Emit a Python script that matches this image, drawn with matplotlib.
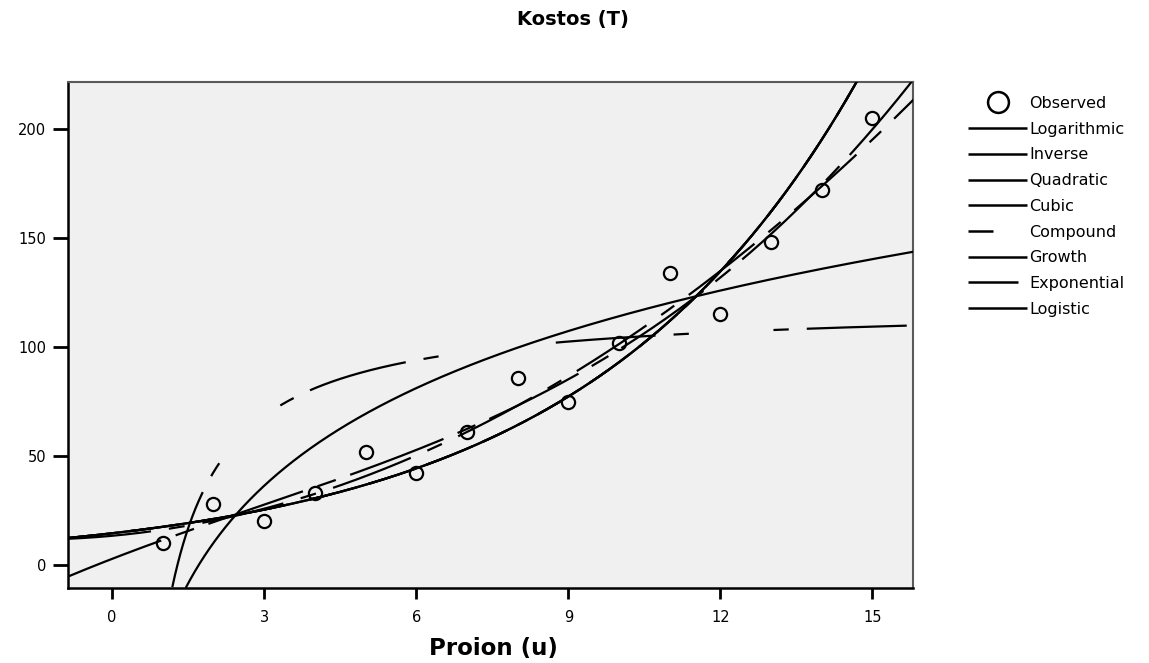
import numpy as np
import matplotlib
matplotlib.use('Agg')
import matplotlib.pyplot as plt
from matplotlib.lines import Line2D

plt.rcParams['font.family'] = ['DejaVu Sans']
plt.rcParams['lines.scale_dashes'] = False

# observed values
proion = np.array([1, 2, 3, 4, 5, 6, 7, 8, 9, 10, 11, 12, 13, 14, 15], dtype=float)
kostos = np.array([10, 28, 20, 33, 52, 42, 61, 86, 75, 102, 134, 115, 148, 172, 205], dtype=float)

modelNames = ['Logarithmic', 'Inverse', 'Quadratic', 'Cubic',
              'Compound', 'Growth', 'Exponential', 'Logistic']
xTicks = [0, 3, 6, 9, 12, 15]
yTicks = [0, 50, 100, 150, 200]

xMin, xMax = -0.87, 15.8
yMin, yMax = -10.5, 221.5

# dash patterns in points, None = solid
dashStyles = {
  'Logarithmic': None,
  'Inverse': (72, 13, 11, 61, 11, 13, 72, 13, 11, 85),
  'Quadratic': (60, 13, 11.5, 13),
  'Cubic': (72, 11, 14, 11),
  'Compound': (18, 26),
  'Growth': None,
  'Exponential': (36, 8),
  'Logistic': (160, 8),
}


def fitModel(name, x, y):
  # curve estimation models, least squares on the linearised form
  if name == 'Logarithmic':
    b1, b0 = np.polyfit(np.log(x), y, 1)
    return lambda t: b0 + b1 * np.log(t)
  if name == 'Inverse':
    b1, b0 = np.polyfit(1.0 / x, y, 1)
    return lambda t: b0 + b1 / t
  if name == 'Quadratic':
    c = np.polyfit(x, y, 2)
    return lambda t: np.polyval(c, t)
  if name == 'Cubic':
    c = np.polyfit(x, y, 3)
    return lambda t: np.polyval(c, t)
  # compound, growth, exponential and logistic (no upper bound) share ln(y) ~ x
  b1, b0 = np.polyfit(x, np.log(y), 1)
  return lambda t: np.exp(b0 + b1 * t)


fig = plt.figure(figsize=(11.49, 6.63), dpi=100)
ax = fig.add_axes([68 / 1149, 1 - 588 / 663, (913 - 68) / 1149, (588 - 82) / 663])
ax.set_facecolor('#f0f0f0')

ax.plot(proion, kostos, 'o', mfc='none', mec='black', ms=9.5, mew=1.6, zorder=3)

handles = [Line2D([], [], marker='o', ls='none', mfc='none', mec='black', ms=15, mew=1.8)]
for name in modelNames:
  f = fitModel(name, proion, kostos)
  if name in ('Logarithmic', 'Inverse'):
    xs = np.linspace(0.02, xMax + 0.05, 4000)
  else:
    xs = np.linspace(xMin, xMax + 0.05, 1000)
  ys = f(xs)
  keep = (ys >= yMin) & (ys < yMax + 3)
  xs, ys = xs[keep], ys[keep]
  line, = ax.plot(xs, ys, color='black', lw=1.6, solid_capstyle='butt', dash_capstyle='butt', zorder=4)
  h = Line2D([], [], color='black', lw=1.8, solid_capstyle='butt', dash_capstyle='butt')
  if dashStyles[name] is not None:
    line.set_dashes(dashStyles[name])
    h.set_dashes(dashStyles[name])
  handles.append(h)

ax.set_xlim(xMin, xMax)
ax.set_ylim(yMin, yMax)
ax.set_xticks(xTicks)
ax.set_yticks(yTicks)
ax.tick_params(axis='both', direction='out', width=2, labelsize=10.5)
ax.tick_params(axis='y', length=10.5, pad=5)
ax.tick_params(axis='x', length=8, pad=8)

for side in ['left', 'bottom']:
  ax.spines[side].set_color('black')
  ax.spines[side].set_linewidth(1.8)
for side in ['top', 'right']:
  ax.spines[side].set_color('#5a5a5a')
  ax.spines[side].set_linewidth(1.5)

fig.text(0.4987, 1 - 20 / 663, 'Kostos (T)', ha='center', va='center', weight='bold', size=14)
fig.text(493 / 1149, 1 - 648 / 663, 'Proion (u)', ha='center', va='center', weight='bold', size=16.5)

fig.legend(handles, ['Observed'] + modelNames, loc='upper left',
           bbox_to_anchor=(968 / 1149, 1 - 96 / 663), frameon=False,
           fontsize=11.5, handlelength=3.7, handletextpad=0.15,
           labelspacing=0.67, borderpad=0, borderaxespad=0)

fig.savefig('out.png', dpi=100)
